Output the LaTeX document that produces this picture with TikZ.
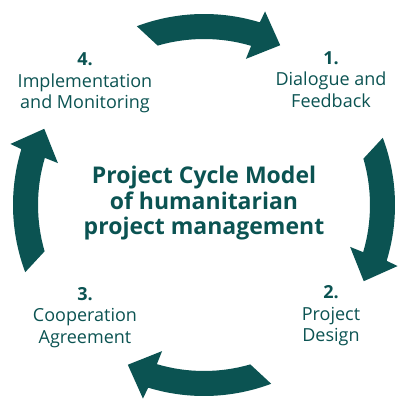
\documentclass[tikz,border=0pt]{standalone}
\usepackage{fontspec}
\setmainfont{Open Sans}
\definecolor{teal1}{RGB}{11,83,82}
\tikzset{
  cyclearrow/.style={fill=teal1, draw=none},
  steplabel/.style={text=teal1, align=center, anchor=base, inner sep=0pt,
    font=\fontsize{18}{21.5}\selectfont},
  titlelabel/.style={text=teal1, align=center, anchor=base, inner sep=0pt,
    font=\fontsize{23}{25.8}\selectfont\bfseries},
}
\newcommand{\cyclearrowpath}{%
  (110.6:191) arc[start angle=110.6, end angle=73, radius=191]
  -- (72.5:203) -- (64.5:177) -- (74:152) -- (73.5:166)
  arc[start angle=73.5, end angle=106.2, radius=166] -- cycle}
\begin{document}
\begin{tikzpicture}[x=1pt,y=1pt]
\useasboundingbox (0,0) rectangle (398,401);
\coordinate (C) at (204,196);
\foreach \r in {0,-90,-180,-270}{
  \begin{scope}[shift={(C)}, rotate=\r]
    \fill[cyclearrow] \cyclearrowpath;
  \end{scope}
}
\node[titlelabel] (title) at (204,166) {Project Cycle Model\\of humanitarian\\project management};
\node[steplabel] (s1) at (331,293.7) {\textbf{1.}\\Dialogue and\\Feedback};
\node[steplabel] (s2) at (331,59.3) {\textbf{2.}\\Project\\Design};
\node[steplabel] (s3) at (85,57.7) {\textbf{3.}\\Cooperation\\Agreement};
\node[steplabel] (s4) at (85,292) {\textbf{4.}\\Implementation\\and Monitoring};
\end{tikzpicture}
\end{document}
